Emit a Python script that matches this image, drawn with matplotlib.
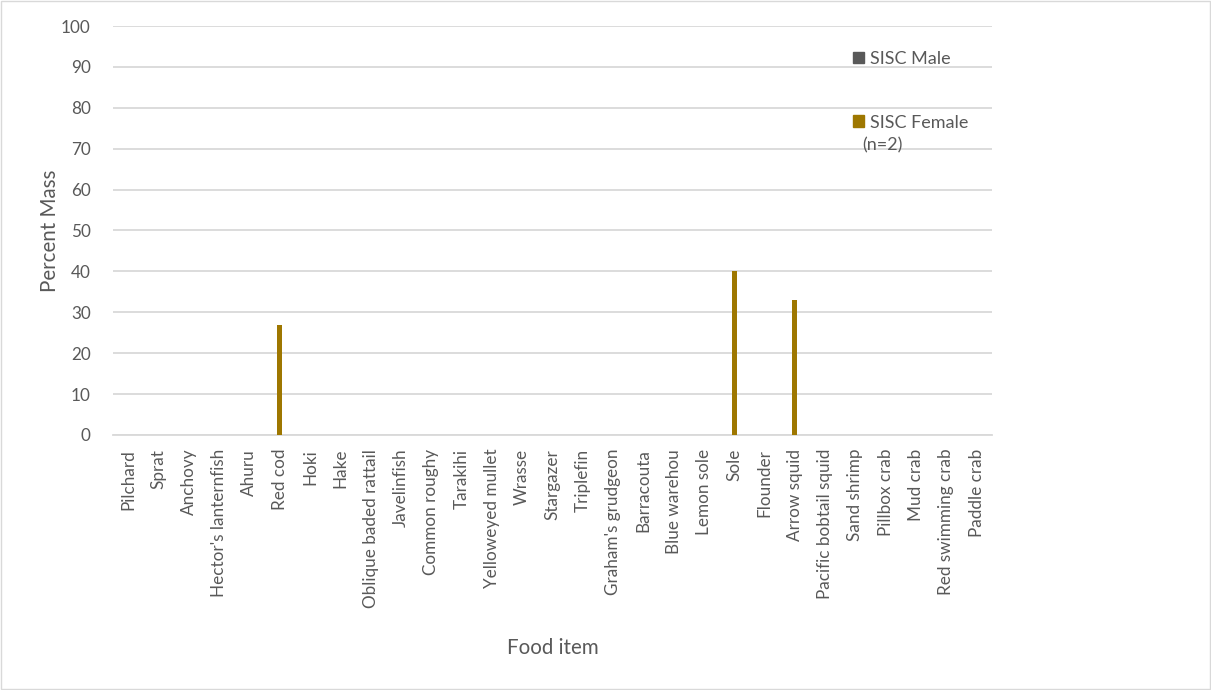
import numpy as np
import matplotlib.pyplot as plt
from matplotlib.patches import Patch, Rectangle

# --- Data ---
foods = ["Pilchard", "Sprat", "Anchovy", "Hector's lanternfish", "Ahuru", "Red cod",
         "Hoki", "Hake", "Oblique baded rattail", "Javelinfish", "Common roughy",
         "Tarakihi", "Yelloweyed mullet", "Wrasse", "Stargazer", "Triplefin",
         "Graham's grudgeon", "Barracouta", "Blue warehou", "Lemon sole", "Sole",
         "Flounder", "Arrow squid", "Pacific bobtail squid", "Sand shrimp",
         "Pillbox crab", "Mud crab", "Red swimming crab", "Paddle crab"]
male = [0] * len(foods)
female = [0, 0, 0, 0, 0, 27, 0, 0, 0, 0, 0, 0, 0, 0, 0, 0, 0, 0, 0, 0, 40,
          0, 33, 0, 0, 0, 0, 0, 0]
yticks = list(range(0, 101, 10))

male_color = '#595959'
female_color = '#9E7700'
text_color = '#595959'
grid_color = '#D9D9D9'

plt.rcParams['font.family'] = ['Lato', 'DejaVu Sans']

fig = plt.figure(figsize=(12.11, 6.9), dpi=100)
ax = fig.add_axes([0.0933, 0.3696, 0.7257, 0.5927])

x = np.arange(len(foods))
w = 0.17
ax.bar(x - w, male, width=w, color=male_color, zorder=3)
ax.bar(x, female, width=w, color=female_color, zorder=3)

ax.set_xlim(-0.5, len(foods) - 0.5)
ax.set_ylim(0, 100)
ax.set_yticks(yticks)
ax.set_xticks(x)
ax.set_xticklabels(foods, rotation=90)
ax.tick_params(axis='both', length=0, labelsize=12.3, colors=text_color)
ax.tick_params(axis='x', pad=10)
ax.tick_params(axis='y', pad=16)
ax.yaxis.grid(True, color=grid_color, linewidth=1.3, zorder=0)
for s in ['top', 'right', 'left']:
    ax.spines[s].set_visible(False)
ax.spines['bottom'].set_color(grid_color)
ax.spines['bottom'].set_linewidth(1.3)

ax.set_ylabel("Percent Mass", fontsize=14.8, color=text_color, labelpad=1)
ax.set_xlabel("Food item", fontsize=14.8, color=text_color, labelpad=22)

handles = [Patch(color=male_color), Patch(color=female_color)]
fig.legend(handles, ["SISC Male", "SISC Female"], loc='upper left',
           bbox_to_anchor=(0.691, 0.95), frameon=False, fontsize=13,
           labelcolor=text_color, handlelength=0.6, handleheight=0.6,
           handletextpad=0.35, labelspacing=2.65)
fig.text(0.712, 0.79, "(n=2)", fontsize=13, color=text_color, va='center')

fig.patches.append(Rectangle((0.001, 0.001), 0.998, 0.997, transform=fig.transFigure,
                             fill=False, edgecolor=grid_color, linewidth=1))

fig.savefig("out.png", dpi=100)
